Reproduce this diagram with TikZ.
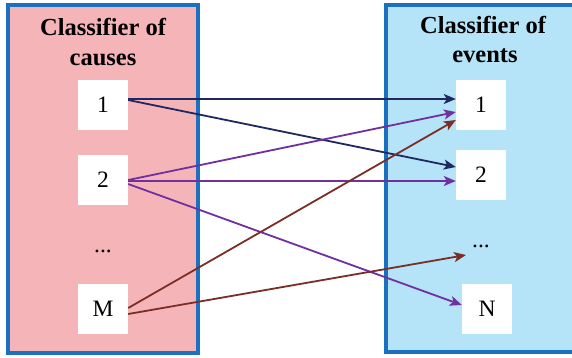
\documentclass[tikz,border=0pt]{standalone}
\usepackage{fontspec}
\setmainfont{Liberation Serif}
\usetikzlibrary{arrows.meta}
\definecolor{pinkfill}{HTML}{F5B5B8}
\definecolor{bluefill}{HTML}{B5E3F7}
\definecolor{frameblue}{HTML}{1B70BF}
\definecolor{navyc}{HTML}{1F2860}
\definecolor{purplec}{HTML}{7030A0}
\definecolor{brownc}{HTML}{7B2E26}
\tikzset{
  panel/.style={draw=frameblue, line width=3.5pt},
  titletext/.style={font=\fontsize{24.5}{30}\selectfont\bfseries, inner sep=0pt, anchor=base},
  itembox/.style={fill=white, minimum width=50pt, minimum height=50pt, inner sep=0pt, font=\fontsize{23.5}{28}\selectfont},
  dotstext/.style={font=\fontsize{23.5}{28}\selectfont, inner sep=0pt},
  arr/.style={line width=1.8pt, -{Stealth[length=12pt,width=10pt,inset=3pt]}},
}
\begin{document}
\begin{tikzpicture}[x=1pt,y=-1pt]
\useasboundingbox (0,0) rectangle (572,357);
\fill[white] (0,0) rectangle (572,357);
% panels
\draw[panel, fill=pinkfill] (8,5) rectangle (198,353);
\draw[panel, fill=bluefill] (386,5) rectangle (590,352);
% titles
\node[titletext] (lt1) at (103,35) {Classifier of};
\node[titletext] (lt2) at (103,65) {causes};
\node[titletext] (rt1) at (483,33) {Classifier of};
\node[titletext] (rt2) at (485,62) {events};
% left items
\node[itembox] (L1) at (103,105) {1};
\node[itembox] (L2) at (103,180) {2};
\node[dotstext] (Ld) at (103,251) {...};
\node[itembox] (LM) at (103,309) {M};
% right items
\node[itembox] (R1) at (481,105) {1};
\node[itembox] (R2) at (481,175) {2};
\node[dotstext] (Rd) at (481,246) {...};
\node[itembox] (RN) at (487,309) {N};
\coordinate (Rdin) at (466,255);
% arrows
\draw[arr, navyc] ([yshift=6pt]L1.east) -- ([yshift=6pt]R1.west);
\draw[arr, navyc] ([yshift=5pt]L1.east) -- ([yshift=8pt]R2.west);
\draw[arr, purplec] (L2.east) -- ([yshift=-7pt]R1.west);
\draw[arr, purplec] ([yshift=-1pt]L2.east) -- ([yshift=-6pt]R2.west);
\draw[arr, purplec] ([yshift=-4pt]L2.east) -- ([yshift=4pt]RN.west);
\draw[arr, brownc] ([yshift=1pt]LM.east) -- ([yshift=-15pt]R1.west);
\draw[arr, brownc] ([yshift=-5pt]LM.east) -- (Rdin);
\end{tikzpicture}
\end{document}
